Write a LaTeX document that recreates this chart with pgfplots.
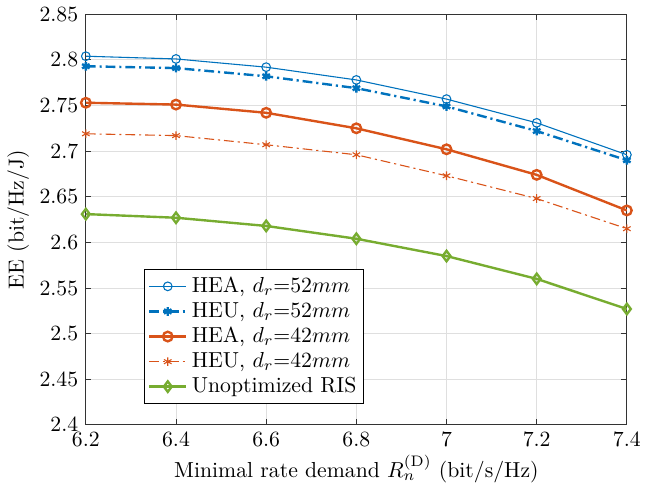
\documentclass[border=0pt]{standalone}
\usepackage{pgfplots}
\pgfplotsset{compat=1.18}
\definecolor{mblue}{rgb}{0,0.447,0.741}
\definecolor{morange}{rgb}{0.85,0.325,0.098}
\definecolor{mgreen}{rgb}{0.466,0.674,0.188}
\begin{document}
\begin{tikzpicture}
\begin{axis}[
  scale only axis, width=249pt, height=189pt,
  xmin=6.2, xmax=7.4, ymin=2.4, ymax=2.85,
  xtick={6.2,6.4,...,7.4},
  ytick={2.4,2.45,...,2.85},
  yticklabel style={/pgf/number format/fixed,/pgf/number format/precision=2},
  xticklabel style={/pgf/number format/fixed,/pgf/number format/precision=1},
  grid=major, grid style={gray!25, line width=0.4pt},
  axis line style={black!80, line width=0.45pt}, tick style={black!80, line width=0.45pt},
  tick align=inside, major tick length=2.6pt,
  xlabel={Minimal rate demand $R_n^{(\mathrm{D})}$ (bit/s/Hz)},
  ylabel={EE (bit/Hz/J)},
  xlabel style={yshift=3pt}, ylabel style={yshift=-2pt},
  legend style={at={(0.108,0.38)}, anchor=north west, draw=black, line width=0.45pt, font=\normalsize, inner sep=1.5pt, row sep=-1pt},
  legend cell align=left,
]
\addplot[color=mblue, line width=0.5pt, mark=o, mark size=2pt, mark options={solid}] coordinates {(6.2,2.804) (6.4,2.801) (6.6,2.792) (6.8,2.778) (7.0,2.757) (7.2,2.731) (7.4,2.696)};
\addplot[color=mblue, line width=1.1pt, dash pattern=on 4.5pt off 1.8pt on 1pt off 1.8pt, mark=asterisk, mark size=2pt, mark options={solid}] coordinates {(6.2,2.793) (6.4,2.791) (6.6,2.782) (6.8,2.769) (7.0,2.749) (7.2,2.722) (7.4,2.690)};
\addplot[color=morange, line width=1.1pt, mark=o, mark size=2.2pt, mark options={solid}] coordinates {(6.2,2.753) (6.4,2.751) (6.6,2.742) (6.8,2.725) (7.0,2.702) (7.2,2.674) (7.4,2.635)};
\addplot[color=morange, line width=0.5pt, dash pattern=on 4.5pt off 1.8pt on 1pt off 1.8pt, mark=asterisk, mark size=2pt, mark options={solid}] coordinates {(6.2,2.719) (6.4,2.717) (6.6,2.707) (6.8,2.696) (7.0,2.673) (7.2,2.648) (7.4,2.615)};
\addplot[color=mgreen, line width=1.1pt, mark=diamond, mark size=2.4pt, mark options={solid}] coordinates {(6.2,2.631) (6.4,2.627) (6.6,2.618) (6.8,2.604) (7.0,2.585) (7.2,2.560) (7.4,2.527)};
\legend{{HEA, $d_r$=52$mm$}, {HEU, $d_r$=52$mm$}, {HEA, $d_r$=42$mm$}, {HEU, $d_r$=42$mm$}, {Unoptimized RIS}}
\end{axis}
\end{tikzpicture}
\end{document}
